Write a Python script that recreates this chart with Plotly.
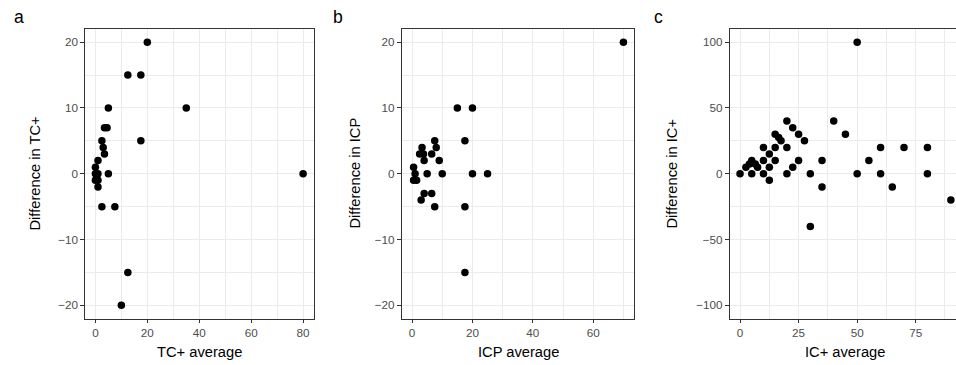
import plotly.graph_objects as go

# ---- Data ----
tc_avg = [20, 12.5, 17.5, 5, 35, 3.5, 4.5, 17.5, 2.5, 3, 3.5, 1, 0, 0, 1, 0.5, 0, 1, 1, 5, 2.5, 7.5, 12.5, 10, 80]
tc_diff = [20, 15, 15, 10, 10, 7, 7, 5, 5, 4, 3, 2, 1, 0, 0, -0.5, -1, -1, -2, 0, -5, -5, -15, -20, 0]

icp_avg = [70, 15, 20, 17.5, 7.5, 8, 3.3, 2.5, 3.8, 6.5, 4, 9, 0.5, 1, 5, 10, 20, 25, 0.5, 1.5, 3, 4, 6.5, 7.5, 17.5, 17.5]
icp_diff = [20, 10, 10, 5, 5, 4, 4, 3, 3, 3, 2, 2, 1, 0, 0, 0, 0, 0, -1, -1, -4, -3, -3, -5, -5, -15]

ic_avg = [50, 40, 45, 60, 70, 80, 55, 50, 60, 80, 65, 90, 35, 35, 30, 30, 27.5, 25, 22.5, 20, 20, 20,
          22.5, 25, 15, 16.5, 17.5, 10, 15, 0, 2.5, 4, 5, 6.5, 7.5, 5, 10, 10, 12.5, 12.5, 12.5, 15]
ic_diff = [100, 40, 30, 20, 20, 20, 10, 0, 0, 0, -10, -20, 10, -10, 0, -40, 25, 30, 35, 40, 20, 0,
           5, 10, 30, 27.5, 25, 20, 20, 0, 5, 7.5, 10, 7.5, 5, 0, 10, 0, 5, -5, 15, 10]

x_titles = ["TC+ average", "ICP average", "IC+ average"]
y_titles = ["Difference in TC+", "Difference in ICP", "Difference in IC+"]
tags = ["a", "b", "c"]

W, H = 956, 365
FONT = "Liberation Sans, Arial, sans-serif"
GRID = "#EBEBEB"
BORDER = "#333333"

fig = go.Figure()

panels = [
    dict(x=tc_avg, y=tc_diff, xd=(85, 313.5), xr=[-4, 84], xt=[0, 20, 40, 60, 80], xm=10,
         yr=[-22, 22], yt=[-20, -10, 0, 10, 20], ym=5, ymirror=True),
    dict(x=icp_avg, y=icp_diff, xd=(401.5, 634), xr=[-3.5, 73.5], xt=[0, 20, 40, 60], xm=10,
         yr=[-22, 22], yt=[-20, -10, 0, 10, 20], ym=5, ymirror=True),
    dict(x=ic_avg, y=ic_diff, xd=(729.5, 956), xr=[-4.5, 92.2], xt=[0, 25, 50, 75], xm=12.5,
         yr=[-110, 110], yt=[-100, -50, 0, 50, 100], ym=25, ymirror=False),
]

top_px, bot_px = 29, 318.5
ydom = [(H - bot_px) / H, (H - top_px) / H]

for i, p in enumerate(panels):
    n = "" if i == 0 else str(i + 1)
    fig.add_trace(go.Scatter(x=p["x"], y=p["y"], mode="markers",
                             marker=dict(color="black", size=7.5, line=dict(width=0)),
                             xaxis="x" + n, yaxis="y" + n, showlegend=False, hoverinfo="x+y"))
    common = dict(showgrid=True, gridcolor=GRID, gridwidth=1.1, zeroline=False,
                  ticks="outside", ticklen=3.7, tickwidth=1, tickcolor=BORDER,
                  showline=True, linecolor=BORDER, linewidth=1,
                  tickfont=dict(family=FONT, size=11.7, color="#4D4D4D"))
    fig.update_layout(**{
        "xaxis" + n: dict(domain=[p["xd"][0] / W, p["xd"][1] / W], range=p["xr"],
                          tickmode="array", tickvals=p["xt"], anchor="y" + n, mirror=True,
                          minor=dict(dtick=p["xm"], tick0=0, showgrid=True, gridcolor=GRID,
                                     gridwidth=0.6, ticks=""),
                          **common),
        "yaxis" + n: dict(domain=ydom, range=p["yr"], tickmode="array", tickvals=p["yt"],
                          anchor="x" + n, mirror=p["ymirror"],
                          minor=dict(dtick=p["ym"], tick0=0, showgrid=True, gridcolor=GRID,
                                     gridwidth=0.6, ticks=""),
                          **common),
    })

annotations = []
xt_cx = [199, 518, 845]
yt_cx = [34, 354, 671]
tag_x = [19, 338, 658]
for i in range(3):
    annotations.append(dict(text=x_titles[i], x=xt_cx[i] / W, y=(H - 352) / H, xref="paper", yref="paper",
                            showarrow=False, xanchor="center", yanchor="middle",
                            font=dict(family=FONT, size=14.7, color="black")))
    annotations.append(dict(text=y_titles[i], x=yt_cx[i] / W, y=(H - 173.5) / H, xref="paper", yref="paper",
                            showarrow=False, xanchor="center", yanchor="middle", textangle=-90,
                            font=dict(family=FONT, size=14.7, color="black")))
    annotations.append(dict(text=tags[i], x=tag_x[i] / W, y=(H - 17) / H, xref="paper", yref="paper",
                            showarrow=False, xanchor="center", yanchor="middle",
                            font=dict(family=FONT, size=17.6, color="black")))

fig.update_layout(width=W, height=H, margin=dict(l=0, r=0, t=0, b=0),
                  paper_bgcolor="white", plot_bgcolor="white",
                  annotations=annotations, font=dict(family=FONT))

fig.write_html("out.html")
